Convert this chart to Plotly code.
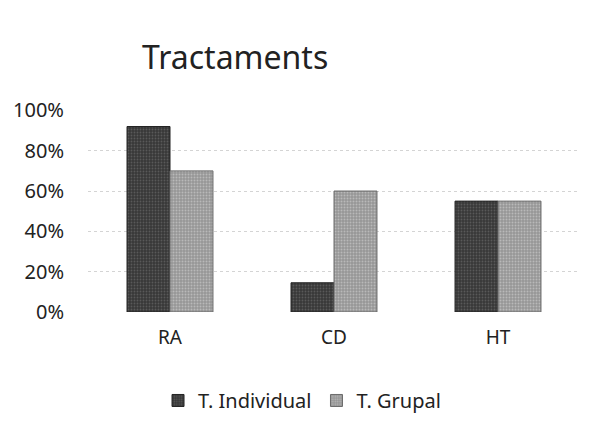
import plotly.graph_objects as go

categories = ["RA", "CD", "HT"]
individual = [0.92, 0.145, 0.55]
grupal = [0.70, 0.60, 0.55]
series_names = ["T. Individual", "T. Grupal"]
tick_vals = [0, 0.2, 0.4, 0.6, 0.8, 1.0]
tick_text = ["0%", "20%", "40%", "60%", "80%", "100%"]

font_family = "Noto Sans, Open Sans, sans-serif"

fig = go.Figure()
fig.add_trace(go.Bar(
    x=categories, y=individual, name=series_names[0],
    marker=dict(color="#404040", line=dict(color="#222222", width=1),
                pattern=dict(shape=".", fgcolor="#7a7a7a", bgcolor="#383838", size=3, solidity=0.3)),
))
fig.add_trace(go.Bar(
    x=categories, y=grupal, name=series_names[1],
    marker=dict(color="#a8a8a8", line=dict(color="#6a6a6a", width=1),
                pattern=dict(shape=".", fgcolor="#dcdcdc", bgcolor="#969696", size=3, solidity=0.35)),
))

fig.update_layout(
    width=601, height=430,
    margin=dict(l=80, r=29, t=102, b=126),
    paper_bgcolor="white", plot_bgcolor="white",
    barmode="group", bargap=0.476, bargroupgap=0,
    font=dict(family=font_family, size=20, color="#222"),
    title=dict(text="Tractaments", x=134/601, xanchor="left", y=1-50/430, yanchor="middle",
               font=dict(size=32, color="#222", family=font_family)),
    showlegend=True,
    legend=dict(orientation="h", x=0.435, xanchor="center", y=-0.438, yanchor="middle",
                font=dict(size=20, color="#222"), itemwidth=30, traceorder="normal"),
    xaxis=dict(showline=False, ticks="", showgrid=False, tickfont=dict(size=19),
               ticklabelstandoff=12, automargin=False),
    yaxis=dict(range=[0, 1.002], tickvals=tick_vals, ticktext=tick_text,
               showgrid=True, gridcolor="#d4d4d4", griddash="dot", gridwidth=1,
               zeroline=False, showline=False, ticks="", ticklabelstandoff=23,
               tickfont=dict(size=20), automargin=False),
)

fig.write_html("out.html")
